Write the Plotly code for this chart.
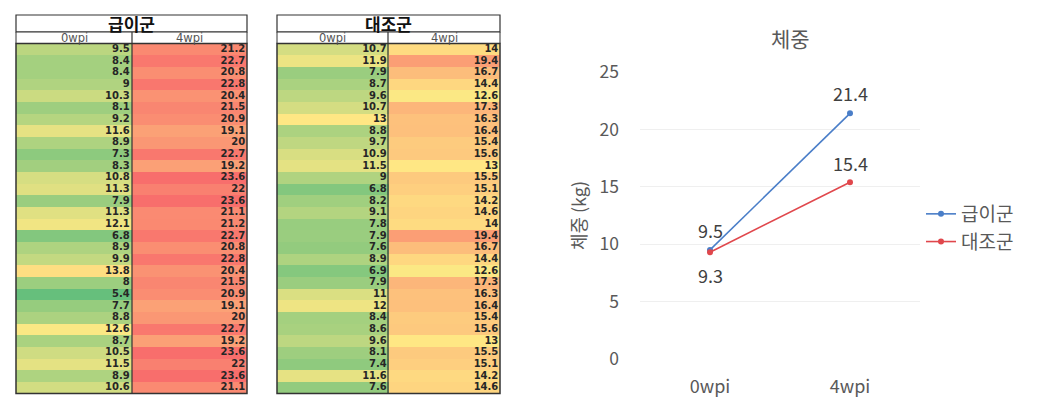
import plotly.graph_objects as go
import numpy as np

# ---------------- data ----------------
weeks = ["0wpi", "4wpi"]
groups = ["급이군", "대조군"]

feed_0wpi = [9.5, 8.4, 8.4, 9, 10.3, 8.1, 9.2, 11.6, 8.9, 7.3, 8.3, 10.8, 11.3, 7.9, 11.3,
             12.1, 6.8, 8.9, 9.9, 13.8, 8, 5.4, 7.7, 8.8, 12.6, 8.7, 10.5, 11.5, 8.9, 10.6]
feed_4wpi = [21.2, 22.7, 20.8, 22.8, 20.4, 21.5, 20.9, 19.1, 20, 22.7, 19.2, 23.6, 22, 23.6, 21.1,
             21.2, 22.7, 20.8, 22.8, 20.4, 21.5, 20.9, 19.1, 20, 22.7, 19.2, 23.6, 22, 23.6, 21.1]
ctrl_0wpi = [10.7, 11.9, 7.9, 8.7, 9.6, 10.7, 13, 8.8, 9.7, 10.9, 11.5, 9, 6.8, 8.2, 9.1,
             7.8, 7.9, 7.6, 8.9, 6.9, 7.9, 11, 12, 8.4, 8.6, 9.6, 8.1, 7.4, 11.6, 7.6]
ctrl_4wpi = [14, 19.4, 16.7, 14.4, 12.6, 17.3, 16.3, 16.4, 15.4, 15.6, 13, 15.5, 15.1, 14.2, 14.6,
             14, 19.4, 16.7, 14.4, 12.6, 17.3, 16.3, 16.4, 15.4, 15.6, 13, 15.5, 15.1, 14.2, 14.6]

mean_feed = [9.5, 21.4]
mean_ctrl = [9.3, 15.4]

chart_title = "체중"
y_title = "체중 (kg)"

# ---------------- styling ----------------
W, H = 1055, 407
FONT = "Noto Sans CJK KR"
NUMFONT = "DejaVu Sans"
GRAY = "#595959"

all_vals = feed_0wpi + feed_4wpi + ctrl_0wpi + ctrl_4wpi
vmin, vmax, vmed = min(all_vals), max(all_vals), float(np.median(all_vals))
p = (vmed - vmin) / (vmax - vmin)
colorscale = [[0, "#66BF7C"], [p, "#FFE984"], [1, "#F86E6C"]]

n = len(feed_0wpi)
rows = list(range(n))


def px(x):
    return x / W


def py(y):
    return (H - y) / H


tables = [
    dict(name=groups[0], c0=feed_0wpi, c1=feed_4wpi, x0=16, xm=132, x1=247, xa="x", ya="y"),
    dict(name=groups[1], c0=ctrl_0wpi, c1=ctrl_4wpi, x0=277, xm=388, x1=500, xa="x2", ya="y2"),
]
TOP, TB, SB, BOT = 15, 32, 43.5, 393.5

fig = go.Figure()
shapes = []
annotations = []

for i, t in enumerate(tables):
    z = [[a, b] for a, b in zip(t["c0"], t["c1"])]
    fig.add_trace(go.Heatmap(
        z=z, x=[0, 1], y=rows, colorscale=colorscale, zmin=vmin, zmax=vmax,
        showscale=False, xaxis=t["xa"], yaxis=t["ya"], hoverinfo="skip", xgap=0, ygap=0))
    for col, vals in enumerate([t["c0"], t["c1"]]):
        fig.add_trace(go.Scatter(
            x=[col + 0.485] * n, y=rows, mode="text",
            text=[f"{v:g}" for v in vals], textposition="middle left",
            textfont=dict(family=NUMFONT, size=10, color="#262626", weight="bold"),
            xaxis=t["xa"], yaxis=t["ya"], showlegend=False, hoverinfo="skip"))
    shapes.append(dict(type="rect", xref="paper", yref="paper",
                       x0=px(t["x0"]), x1=px(t["x1"]), y0=py(TB), y1=py(TOP),
                       line=dict(color="#333", width=1.2), fillcolor="white", layer="above"))
    shapes.append(dict(type="rect", xref="paper", yref="paper",
                       x0=px(t["x0"]), x1=px(t["x1"]), y0=py(SB), y1=py(TB),
                       line=dict(color="#333", width=1), fillcolor="white", layer="above"))
    shapes.append(dict(type="rect", xref="paper", yref="paper",
                       x0=px(t["x0"]), x1=px(t["x1"]), y0=py(BOT), y1=py(SB),
                       line=dict(color="#333", width=1.5), layer="above"))
    shapes.append(dict(type="line", xref="paper", yref="paper",
                       x0=px(t["xm"]), x1=px(t["xm"]), y0=py(BOT), y1=py(TB),
                       line=dict(color="#333", width=1.2), layer="above"))
    annotations.append(dict(text=f"<b>{t['name']}</b>", xref="paper", yref="paper",
                            x=px((t["x0"] + t["x1"]) / 2), y=py((TOP + TB) / 2),
                            showarrow=False, xanchor="center", yanchor="middle",
                            font=dict(family=FONT, size=17, color="#111")))
    for j, wk in enumerate(weeks):
        cx = (t["x0"] + t["xm"]) / 2 if j == 0 else (t["xm"] + t["x1"]) / 2
        annotations.append(dict(text=wk, xref="paper", yref="paper",
                                x=px(cx), y=py((TB + SB) / 2), showarrow=False,
                                xanchor="center", yanchor="middle",
                                font=dict(family=NUMFONT, size=11.5, color="#555")))

# ---------------- line chart ----------------
line_series = [
    (groups[0], mean_feed, "#4A7EC8", [20, 20]),
    (groups[1], mean_ctrl, "#E0474C", [-23, 19]),
]
for name, vals, color, shifts in line_series:
    fig.add_trace(go.Scatter(
        x=[0, 1], y=vals, mode="lines+markers", name=name,
        line=dict(color=color, width=1.6), marker=dict(size=6, color=color),
        xaxis="x3", yaxis="y3"))
    for xi, (v, s) in enumerate(zip(vals, shifts)):
        annotations.append(dict(text=f"{v:g}", xref="x3", yref="y3", x=xi, y=v,
                                yshift=s, showarrow=False, xanchor="center", yanchor="middle",
                                font=dict(family=FONT, size=18, color="#404040")))

hid = dict(showgrid=False, zeroline=False, showticklabels=False, ticks="", showline=False)
fig.update_layout(
    width=W, height=H, margin=dict(l=0, r=0, t=0, b=0, autoexpand=False),
    paper_bgcolor="white", plot_bgcolor="white",
    xaxis=dict(domain=[px(16), px(247)], range=[-0.5, 1.5], **hid),
    yaxis=dict(domain=[py(BOT), py(SB)], range=[n - 0.5, -0.5], **hid),
    xaxis2=dict(domain=[px(277), px(500)], range=[-0.5, 1.5], **hid),
    yaxis2=dict(domain=[py(BOT), py(SB)], range=[n - 0.5, -0.5], **hid),
    xaxis3=dict(domain=[px(640), px(920)], range=[-0.5, 1.5], tickvals=[0, 1], ticktext=weeks,
                showgrid=False, zeroline=False, showline=False, ticks="", anchor="y3",
                ticklabelstandoff=15, tickfont=dict(family=FONT, size=18, color=GRAY)),
    yaxis3=dict(domain=[py(359), py(72)], range=[0, 25], dtick=5, anchor="x3",
                showgrid=True, gridcolor="#EFEFEF", gridwidth=1, zeroline=False, showline=False,
                ticks="", ticklabelstandoff=20, tickfont=dict(family=FONT, size=17.5, color=GRAY),
                title=dict(text=y_title, standoff=8, font=dict(family=FONT, size=18, color=GRAY))),
    legend=dict(x=px(921), y=py(228), xanchor="left", yanchor="middle",
                font=dict(family=FONT, size=19, color=GRAY), bgcolor="rgba(0,0,0,0)",
                itemwidth=30, tracegroupgap=0),
    shapes=shapes,
    annotations=annotations + [dict(text=chart_title, xref="paper", yref="paper",
                                    x=px(790), y=py(38), showarrow=False,
                                    xanchor="center", yanchor="middle",
                                    font=dict(family=FONT, size=21, color=GRAY))],
)

fig.write_html(
    "out.html",
    config={"displayModeBar": False},
    post_script="document.body.style.margin='0';document.body.style.overflow='hidden';",
)
